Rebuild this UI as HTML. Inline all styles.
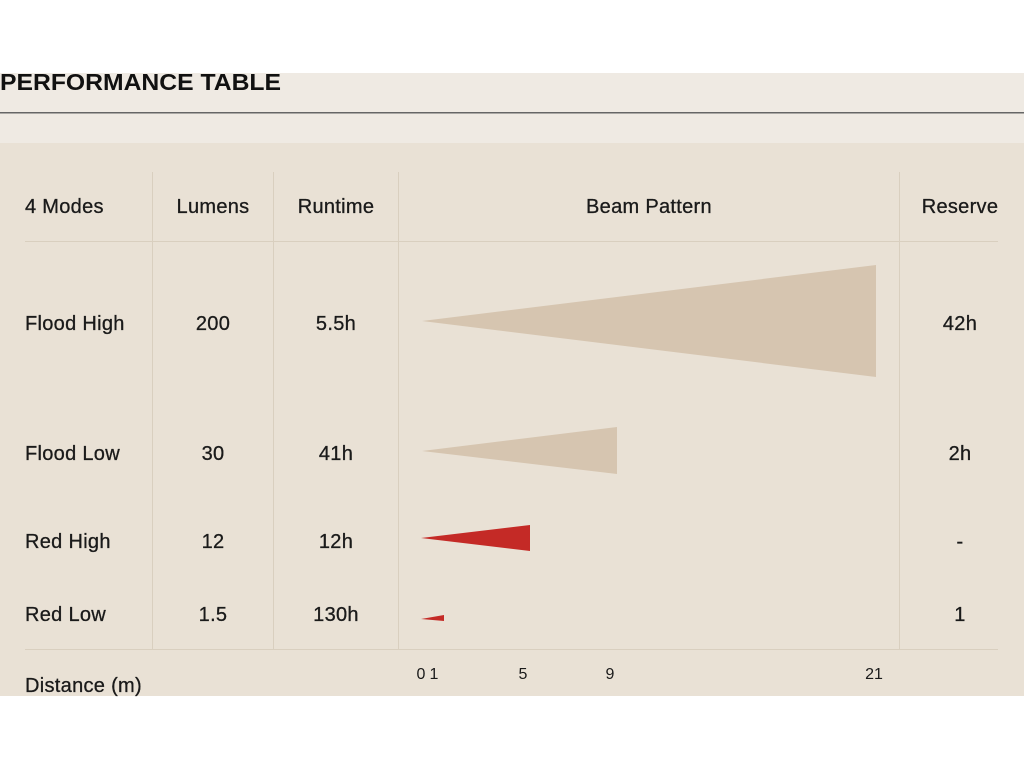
<!DOCTYPE html>
<html><head><style>
html,body{margin:0;padding:0;background:#fff;}
svg{display:block;font-family:"Liberation Sans",sans-serif;}
</style></head><body>
<svg width="1024" height="768" viewBox="0 0 1024 768">
<rect x="0" y="0" width="1024" height="768" fill="#fff"/>
<rect x="0" y="73" width="1024" height="70" fill="#efeae3"/>
<text x="0" y="90" font-size="23" font-weight="bold" fill="#111" textLength="281" lengthAdjust="spacingAndGlyphs">PERFORMANCE TABLE</text>
<rect x="0" y="112" width="1024" height="1.5" fill="#666"/>
<rect x="0" y="143" width="1024" height="553" fill="#e9e1d5"/>
<g stroke="#d9cfbf" stroke-width="1">
<line x1="152.5" y1="172" x2="152.5" y2="649"/>
<line x1="273.5" y1="172" x2="273.5" y2="649"/>
<line x1="398.5" y1="172" x2="398.5" y2="649"/>
<line x1="899.5" y1="172" x2="899.5" y2="649"/>
<line x1="25" y1="241.5" x2="998" y2="241.5"/>
<line x1="25" y1="649.5" x2="998" y2="649.5"/>
</g>
<polygon points="422,321 876,265 876,377" fill="#d6c5b0"/>
<polygon points="422,451 617,427 617,474" fill="#d6c5b0"/>
<polygon points="421,538 530,525 530,551" fill="#c42a26"/>
<polygon points="421,619 444,615 444,621" fill="#c42a26"/>
<g font-size="20" fill="#1a1a1a" letter-spacing="0.3" stroke="#1a1a1a" stroke-width="0.3">
<text x="25" y="213">4 Modes</text>
<text x="213" y="213" text-anchor="middle">Lumens</text>
<text x="336" y="213" text-anchor="middle">Runtime</text>
<text x="649" y="213" text-anchor="middle">Beam Pattern</text>
<text x="960" y="213" text-anchor="middle">Reserve</text>
<text x="25" y="330">Flood High</text>
<text x="213" y="330" text-anchor="middle">200</text>
<text x="336" y="330" text-anchor="middle">5.5h</text>
<text x="960" y="330" text-anchor="middle">42h</text>
<text x="25" y="460">Flood Low</text>
<text x="213" y="460" text-anchor="middle">30</text>
<text x="336" y="460" text-anchor="middle">41h</text>
<text x="960" y="460" text-anchor="middle">2h</text>
<text x="25" y="548">Red High</text>
<text x="213" y="548" text-anchor="middle">12</text>
<text x="336" y="548" text-anchor="middle">12h</text>
<text x="960" y="548" text-anchor="middle">-</text>
<text x="25" y="621">Red Low</text>
<text x="213" y="621" text-anchor="middle">1.5</text>
<text x="336" y="621" text-anchor="middle">130h</text>
<text x="960" y="621" text-anchor="middle">1</text>
<text x="25" y="692">Distance (m)</text>
</g>
<g font-size="16" fill="#1a1a1a" text-anchor="middle">
<text x="421" y="679">0</text>
<text x="434" y="679">1</text>
<text x="523" y="679">5</text>
<text x="610" y="679">9</text>
<text x="874" y="679">21</text>
</g>
</svg>
</body></html>
